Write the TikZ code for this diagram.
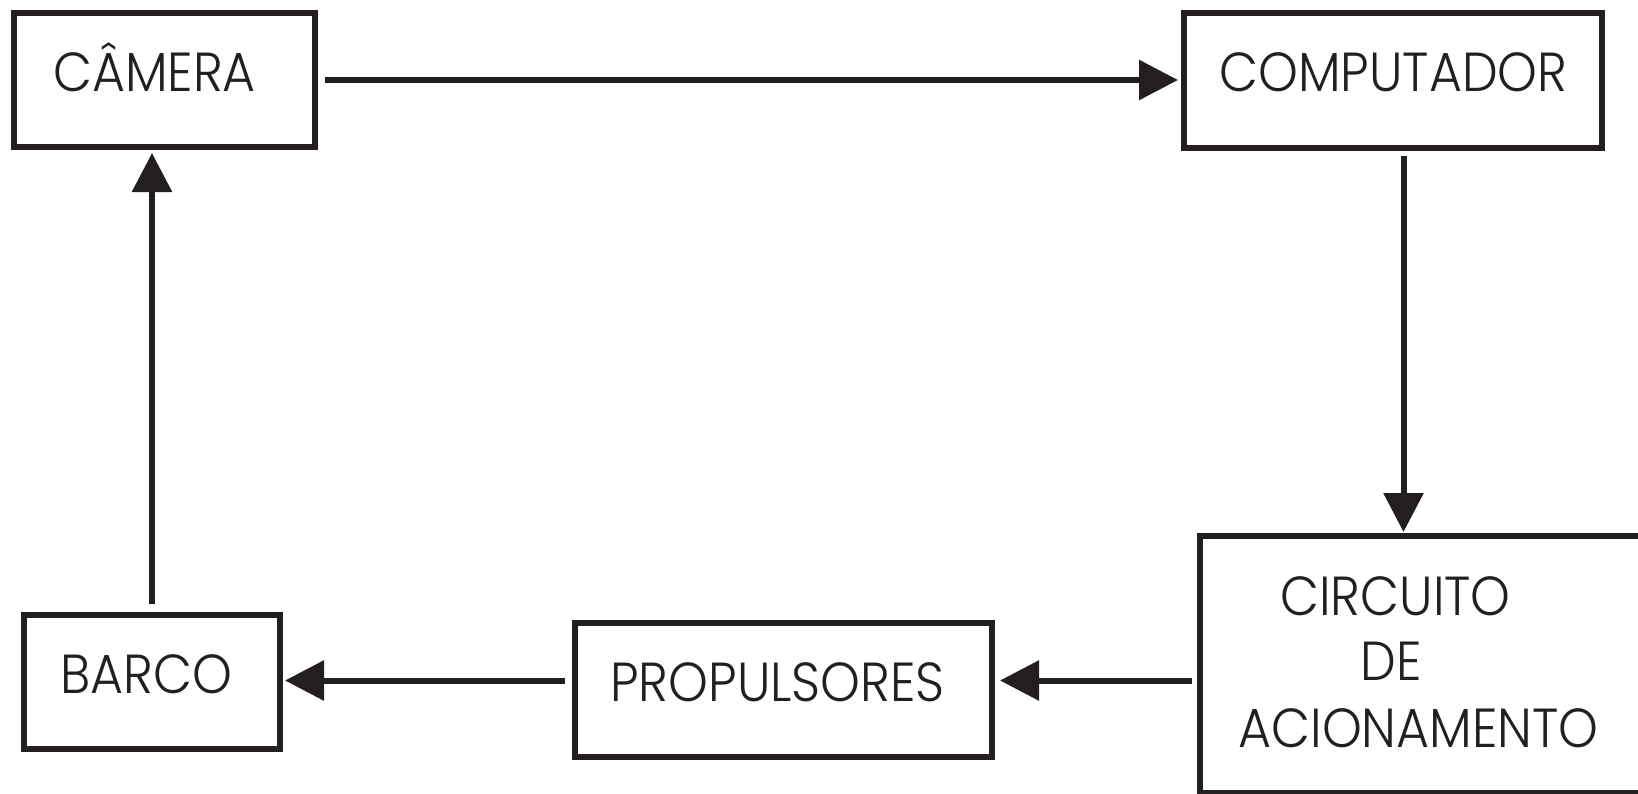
\documentclass[tikz,border=0pt]{standalone}
\usepackage{fontspec}
\setmainfont{Poppins Light}[FakeStretch=0.92]
\usetikzlibrary{arrows.meta}
\definecolor{ink}{HTML}{231F20}
\tikzset{
  blk/.style={draw=ink, line width=3pt, rectangle, inner sep=0pt},
  lbl/.style={anchor=base, inner sep=0pt, text=ink, font=\fontsize{27.5}{33}\selectfont},
  arr/.style={draw=ink, line width=3pt, -{Triangle[length=19.5pt,width=19.5pt]}},
}
\begin{document}
\begin{tikzpicture}[x=0.5pt,y=-0.5pt]
\useasboundingbox (0,0) rectangle (1638,793);
\clip (0,0) rectangle (1638,793);
\fill[white] (0,0) rectangle (1638,793);
% boxes
\node[blk, minimum width=150.5pt, minimum height=67pt] (cam) at (164.5,80) {};
\node[blk, minimum width=209pt, minimum height=67.5pt] (comp) at (1393,80.5) {};
\node[blk, minimum width=221.5pt, minimum height=128.5pt] (circ) at (1421.5,664.5) {};
\node[blk, minimum width=208.5pt, minimum height=67pt] (prop) at (783.5,690) {};
\node[blk, minimum width=128pt, minimum height=67pt] (barco) at (152,682) {};
% labels
\node[lbl] (tcam) at (154.5,91) {CÂMERA};
\node[lbl] (tcomp) at (1393.5,91) {COMPUTADOR};
\node[lbl] (tc1) at (1395.5,615) {CIRCUITO};
\node[lbl] (tc2) at (1391,680) {DE};
\node[lbl] (tc3) at (1418.5,747) {ACIONAMENTO};
\node[lbl] (tprop) at (777.5,701) {PROPULSORES};
\node[lbl] (tbarco) at (146.5,693) {BARCO};
% connectors
\coordinate (rowy) at (0,680.5);
\draw[arr, shorten <=3.5pt, shorten >=1.5pt] (cam.east) -- (cam.east -| comp.west);
\draw[arr, shorten <=2.5pt, shorten >=0.5pt] ([xshift=5.25pt]comp.south) -- ([xshift=5.25pt]comp.south |- circ.north);
\draw[arr, shorten <=2.5pt, shorten >=2.5pt] (circ.west |- rowy) -- (prop.east |- rowy);
\draw[arr, shorten <=3.5pt, shorten >=1pt] (prop.west |- rowy) -- (barco.east |- rowy);
\draw[arr, shorten <=4pt, shorten >=1.5pt] (barco.north) -- (barco.north |- cam.south);
\end{tikzpicture}
\end{document}
